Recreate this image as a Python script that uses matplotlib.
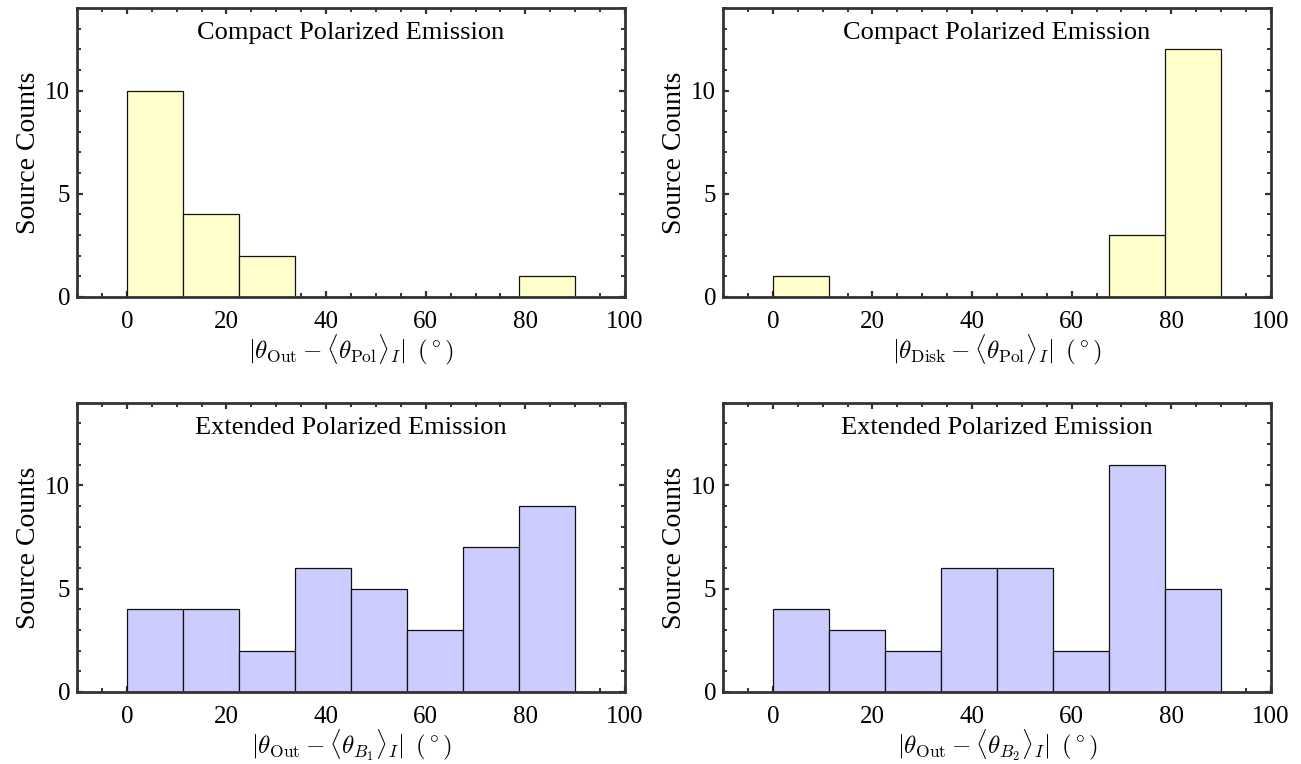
import numpy as np
import matplotlib
matplotlib.use("Agg")
import matplotlib.pyplot as plt
from matplotlib.ticker import MultipleLocator

plt.rcParams.update({
    "font.family": "serif",
    "font.serif": ["Liberation Serif", "DejaVu Serif"],
    "mathtext.fontset": "cm",
    "axes.unicode_minus": False,
})

# Histogram bins: 8 equal bins over 0-90 degrees
bin_edges = np.linspace(0, 90, 9)

compact_out = [10, 4, 2, 0, 0, 0, 0, 1]
compact_disk = [1, 0, 0, 0, 0, 0, 3, 12]
extended_b1 = [4, 4, 2, 6, 5, 3, 7, 9]
extended_b2 = [4, 3, 2, 6, 6, 2, 11, 5]

titles = ["Compact Polarized Emission", "Compact Polarized Emission",
          "Extended Polarized Emission", "Extended Polarized Emission"]
xlabels = [
    r"$|\theta_{\rm Out} - \langle\theta_{\rm Pol}\rangle_I|\ \,(^\circ)$",
    r"$|\theta_{\rm Disk} - \langle\theta_{\rm Pol}\rangle_I|\ \,(^\circ)$",
    r"$|\theta_{\rm Out} - \langle\theta_{B_1}\rangle_I|\ \,(^\circ)$",
    r"$|\theta_{\rm Out} - \langle\theta_{B_2}\rangle_I|\ \,(^\circ)$",
]
series = [compact_out, compact_disk, extended_b1, extended_b2]
colors = ["#FFFFCC", "#FFFFCC", "#CCCCFF", "#CCCCFF"]

fig = plt.figure(figsize=(13.01, 7.64), dpi=100)
boxes = [
    [0.0592, 0.6113, 0.4212, 0.3782],
    [0.5557, 0.6113, 0.4212, 0.3782],
    [0.0592, 0.0945, 0.4212, 0.3782],
    [0.5557, 0.0945, 0.4212, 0.3782],
]

for box, counts, title, xlabel, color in zip(boxes, series, titles, xlabels, colors):
    ax = fig.add_axes(box)
    ax.bar(bin_edges[:-1], counts, width=np.diff(bin_edges), align="edge",
           color=color, edgecolor="#111111", linewidth=0.9, zorder=2)
    ax.set_xlim(-10, 100)
    ax.set_ylim(0, 14)
    ax.xaxis.set_major_locator(MultipleLocator(20))
    ax.xaxis.set_minor_locator(MultipleLocator(5))
    ax.yaxis.set_major_locator(MultipleLocator(5))
    ax.yaxis.set_minor_locator(MultipleLocator(1))
    ax.tick_params(which="both", direction="in", top=True, right=True,
                   color="#333333", labelsize=18)
    ax.tick_params(axis="x", which="major", pad=10)
    ax.tick_params(axis="y", which="major", pad=5)
    ax.tick_params(which="major", length=4, width=1.6)
    ax.tick_params(which="minor", length=3, width=1.4)
    for sp in ax.spines.values():
        sp.set_linewidth(2.0)
        sp.set_color("#333333")
        sp.set_zorder(3)
    ax.text(0.5, 0.913, title, transform=ax.transAxes, ha="center",
            va="center", fontsize=19)
    ax.set_xlabel(xlabel, fontsize=18, labelpad=0)
    ax.set_ylabel("Source Counts", fontsize=20, labelpad=3)

fig.savefig("out.png", dpi=100)
